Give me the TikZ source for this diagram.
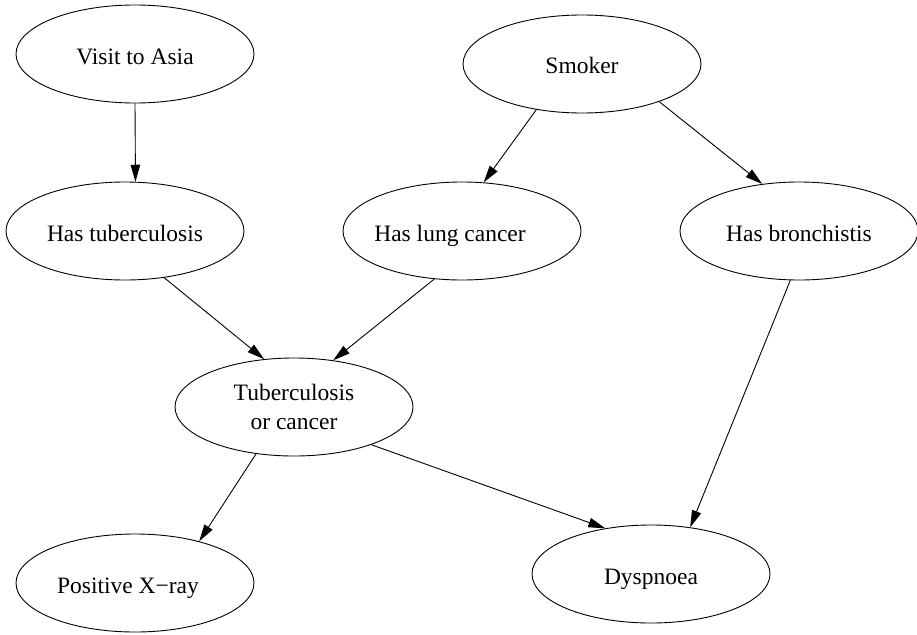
\documentclass[tikz,border=0pt]{standalone}
\usepackage{fontspec}
\setmainfont{Liberation Serif}
\usetikzlibrary{arrows.meta,shapes.geometric}
\begin{document}
\begin{tikzpicture}[x=1pt,y=-1pt,
  ell/.style={draw, ellipse, line width=0.9pt, inner sep=0pt,
    minimum width=238pt, minimum height=98pt, align=center,
    font=\fontsize{23.5pt}{29pt}\selectfont},
  one/.style={text height=20pt, text depth=0pt},
  lab/.style={one, inner sep=0pt, font=\fontsize{23.5pt}{29pt}\selectfont},
  edge/.style={line width=0.9pt, -{Triangle[length=17pt,width=9.5pt]}}]
\useasboundingbox (0,0) rectangle (917,634);
\node[ell, one] (visit)  at (135,54)  {Visit to Asia};
\node[ell, one] (smoker) at (582,64)  {Smoker};
\node[ell, one] (tb)     at (125,231) {Has tuberculosis};
\node[ell, label={[lab, xshift=-12pt]center:Has lung cancer}] (lung) at (462,231) {};
\node[ell, one] (bronch) at (799,231) {Has bronchistis};
\node[ell, text depth=0pt] (torc)   at (294,407) {Tuberculosis\\or cancer};
\node[ell, label={[lab, xshift=-7pt]center:Positive X−ray}] (xray) at (135,583) {};
\node[ell, one] (dysp)   at (651,574) {Dyspnoea};
\draw[edge] (visit.-90)   -- (tb.78.5);
\draw[edge] (smoker.-135) -- (lung.66.8);
\draw[edge] (smoker.-26.6) -- (bronch.128.5);
\draw[edge] (tb.-50)      -- (torc.122.3);
\draw[edge] (lung.-120.6) -- (torc.50);
\draw[edge] (bronch.-100.4) -- (dysp.50.6);
\draw[edge] (torc.-26.9)  -- (dysp.135);
\draw[edge] (torc.-129.4) -- (xray.33.7);
\end{tikzpicture}
\end{document}
